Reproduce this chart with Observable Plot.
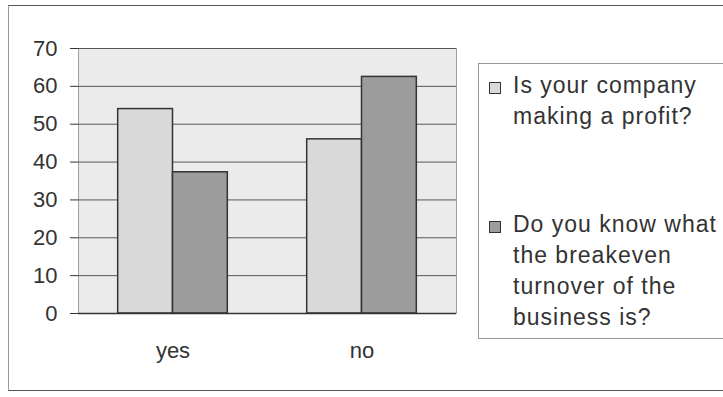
<!DOCTYPE html>
<html><head><meta charset="utf-8">
<script src="https://cdn.jsdelivr.net/npm/d3@7"></script>
<script src="https://cdn.jsdelivr.net/npm/@observablehq/plot@0.6"></script>
<style>
body{margin:0;background:#fff;}
#wrap{position:relative;width:723px;height:397px;overflow:hidden;font-family:"Liberation Sans",Arial,sans-serif;color:#333;background:#fff;}
#border{position:absolute;left:8px;top:5px;width:780px;height:386px;border:1.5px solid #555;border-left-color:#999;box-sizing:border-box;}
#chart{position:absolute;left:0;top:0;}
#legend{position:absolute;left:478px;top:63px;width:320px;height:276px;border:1px solid #999;box-sizing:border-box;background:#fff;}
.sw{position:absolute;left:10px;width:12px;height:12px;border:1px solid #333;box-sizing:border-box;}
.lt{position:absolute;left:34px;font-size:23px;line-height:31px;letter-spacing:1px;white-space:nowrap;color:#333;}
</style></head>
<body>
<div id="wrap">
  <div id="border"></div>
  <div id="chart"></div>
  <div id="legend"></div>
</div>
<script>
const categories = ["yes", "no"];
const seriesNames = ["Is your company making a profit?", "Do you know what the breakeven turnover of the business is?"];
const seriesLines = [["Is your company", "making a profit?"], ["Do you know what", "the breakeven", "turnover of the", "business is?"]];
const profitValues = [54, 46];
const breakevenValues = [37.3, 62.5];
const yTicks = [0, 10, 20, 30, 40, 50, 60, 70];
const seriesColors = ["#d9d9d9", "#9c9c9c"];

const data = categories.flatMap((c, i) => [
  {category: c, series: seriesNames[0], value: profitValues[i]},
  {category: c, series: seriesNames[1], value: breakevenValues[i]}
]);

const W = 470, H = 397, ml = 78, mr = 14, mt = 48, mb = 84;
const xOpts = {type: "band", domain: categories, paddingInner: 0.42, paddingOuter: 0.21, round: false};
const bw = Plot.scale({x: {...xOpts, range: [ml, W - mr]}}).bandwidth;

const chart = Plot.plot({
  width: W, height: H,
  marginLeft: ml, marginRight: mr, marginTop: mt, marginBottom: mb,
  style: {fontSize: "22px", fontFamily: "'Liberation Sans', Arial, sans-serif", color: "#333", background: "transparent", overflow: "visible"},
  x: {...xOpts, tickSize: 0, tickPadding: 29, label: null},
  y: {domain: [0, 70], ticks: yTicks, tickSize: 8, tickPadding: 13, label: null},
  marks: [
    Plot.frame({fill: "#ebebeb", stroke: "#a0a0a0"}),
    Plot.ruleY(yTicks, {stroke: "#555", strokeWidth: 1}),
    Plot.barY(data.filter(d => d.series === seriesNames[0]), {x: "category", y: "value", fill: seriesColors[0], stroke: "#333", strokeWidth: 1.5, insetLeft: 0, insetRight: bw / 2}),
    Plot.barY(data.filter(d => d.series === seriesNames[1]), {x: "category", y: "value", fill: seriesColors[1], stroke: "#333", strokeWidth: 1.5, insetLeft: bw / 2, insetRight: 0}),
    Plot.ruleY([0], {stroke: "#333", strokeWidth: 1.5})
  ]
});
document.getElementById("chart").appendChild(chart);

// legend
const legend = document.getElementById("legend");
const itemTops = [5.5, 144.5];
seriesNames.forEach((s, i) => {
  const sw = document.createElement("div");
  sw.className = "sw";
  sw.style.top = (itemTops[i] + 12) + "px";
  sw.style.background = seriesColors[i];
  legend.appendChild(sw);
  const t = document.createElement("div");
  t.className = "lt";
  t.style.top = itemTops[i] + "px";
  t.innerHTML = seriesLines[i].join("<br>");
  legend.appendChild(t);
});
</script>
</body></html>
